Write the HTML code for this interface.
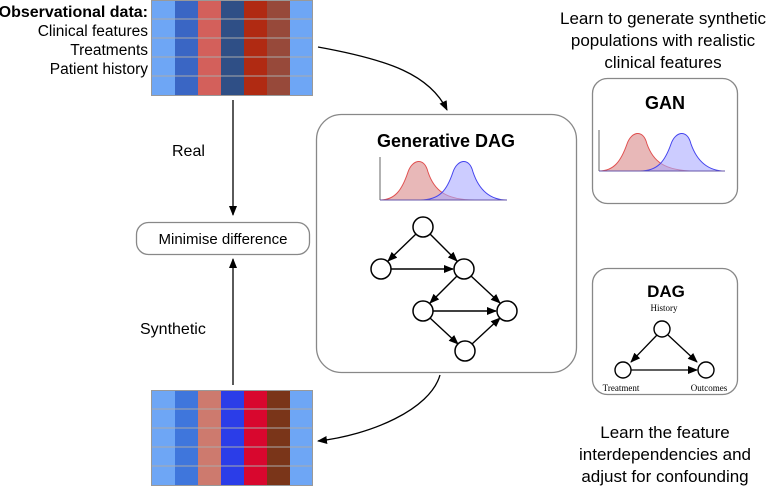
<!DOCTYPE html>
<html><head><style>
body{margin:0;width:775px;height:486px;background:#fff;overflow:hidden;font-family:"Liberation Sans",sans-serif}
</style></head><body>
<svg width="775" height="486" viewBox="0 0 775 486" xmlns="http://www.w3.org/2000/svg">
<defs>
<marker id="a" markerWidth="10" markerHeight="8" refX="9" refY="4" orient="auto" markerUnits="userSpaceOnUse"><path d="M0,0 L10,4 L0,8 z" fill="#000"/></marker>
</defs>
<g>
<rect x="151" y="0" width="24" height="96" fill="#6ea6f5"/>
<rect x="175" y="0" width="23" height="96" fill="#3a66c4"/>
<rect x="198" y="0" width="23" height="96" fill="#d3605b"/>
<rect x="221" y="0" width="23" height="96" fill="#2f4f86"/>
<rect x="244" y="0" width="23" height="96" fill="#b02a12"/>
<rect x="267" y="0" width="23" height="96" fill="#97493a"/>
<rect x="290" y="0" width="23" height="96" fill="#6ea6f5"/>
<g stroke="#aaa" stroke-width="1"><line x1="151" y1="19" x2="313" y2="19"/><line x1="151" y1="38" x2="313" y2="38"/><line x1="151" y1="57" x2="313" y2="57"/><line x1="151" y1="76" x2="313" y2="76"/></g>
<rect x="151.5" y="0.5" width="161" height="95" fill="none" stroke="#999"/>
</g>
<g>
<rect x="151" y="390" width="24" height="96" fill="#6ea6f5"/>
<rect x="175" y="390" width="23" height="96" fill="#3f76dc"/>
<rect x="198" y="390" width="23" height="96" fill="#cd7a6e"/>
<rect x="221" y="390" width="23" height="96" fill="#2b3de8"/>
<rect x="244" y="390" width="23" height="96" fill="#d8072e"/>
<rect x="267" y="390" width="23" height="96" fill="#7a3519"/>
<rect x="290" y="390" width="23" height="96" fill="#6ea6f5"/>
<g stroke="#aaa" stroke-width="1"><line x1="151" y1="409" x2="313" y2="409"/><line x1="151" y1="428" x2="313" y2="428"/><line x1="151" y1="447" x2="313" y2="447"/><line x1="151" y1="466" x2="313" y2="466"/></g>
<rect x="151.5" y="390.5" width="161" height="95" fill="none" stroke="#999"/>
</g>
<g font-size="15.5" text-anchor="end" fill="#000">
<text x="148" y="17" font-weight="bold" font-size="16">Observational data:</text>
<text x="148" y="36">Clinical features</text>
<text x="148" y="55">Treatments</text>
<text x="148" y="74">Patient history</text>
</g>
<line x1="233" y1="100" x2="233" y2="215" stroke="#000" stroke-width="1.3" marker-end="url(#a)"/>
<line x1="233" y1="385" x2="233" y2="259" stroke="#000" stroke-width="1.3" marker-end="url(#a)"/>
<text x="172" y="156" font-size="16">Real</text>
<text x="140" y="334" font-size="16">Synthetic</text>
<rect x="136.5" y="222.5" width="173" height="32" rx="12" fill="#fff" stroke="#888" stroke-width="1.3"/>
<text x="223" y="244" font-size="15" text-anchor="middle">Minimise difference</text>
<path d="M318,47 C390,60 430,75 447,110" fill="none" stroke="#000" stroke-width="1.3" marker-end="url(#a)"/>
<path d="M440,375 C430,410 370,435 318,441" fill="none" stroke="#000" stroke-width="1.3" marker-end="url(#a)"/>
<rect x="316.5" y="114.5" width="260" height="258" rx="25" fill="#fff" stroke="#888" stroke-width="1.3"/>
<text x="446" y="147" font-size="18" font-weight="bold" text-anchor="middle">Generative DAG</text>
<line x1="380" y1="157" x2="380" y2="200" stroke="#666"/>
<path d="M380,200 C395,200 402,190 408,172 C412,160 424,156 428,172 C434,190 445,200 475,200 Z" fill="#e8b8b8" stroke="#e05050"/>
<path d="M420,200 C440,200 447,190 453,172 C457,160 469,156 473,172 C479,190 490,200 507,200 Z" fill="rgba(170,170,255,0.6)" stroke="#4444ee"/>
<line x1="380" y1="200" x2="507" y2="200" stroke="#6655aa"/>
<g stroke="#000" stroke-width="1.4" fill="none">
<line x1="416" y1="234" x2="388" y2="261" marker-end="url(#a)"/>
<line x1="430" y1="234" x2="457" y2="261" marker-end="url(#a)"/>
<line x1="391" y1="269" x2="453" y2="269" marker-end="url(#a)"/>
<line x1="457" y1="276" x2="430" y2="303" marker-end="url(#a)"/>
<line x1="471" y1="276" x2="500" y2="303" marker-end="url(#a)"/>
<line x1="433" y1="311" x2="496" y2="311" marker-end="url(#a)"/>
<line x1="430" y1="318" x2="458" y2="344" marker-end="url(#a)"/>
<line x1="472" y1="344" x2="500" y2="318" marker-end="url(#a)"/>
</g>
<g fill="#fff" stroke="#000" stroke-width="1.5">
<circle cx="423" cy="227" r="10"/><circle cx="381" cy="269" r="10"/><circle cx="464" cy="269" r="10"/>
<circle cx="423" cy="311" r="10"/><circle cx="507" cy="311" r="10"/><circle cx="465" cy="351" r="10"/>
</g>
<g font-size="17" text-anchor="middle">
<text x="663" y="24">Learn to generate synthetic</text>
<text x="663" y="46">populations with realistic</text>
<text x="663" y="68">clinical features</text>
<text x="665" y="438">Learn the feature</text>
<text x="665" y="460">interdependencies and</text>
<text x="665" y="482">adjust for confounding</text>
</g>
<rect x="592.5" y="78.5" width="145" height="125" rx="15" fill="#fff" stroke="#888" stroke-width="1.3"/>
<text x="665" y="109" font-size="18" font-weight="bold" text-anchor="middle">GAN</text>
<line x1="599" y1="130" x2="599" y2="171" stroke="#666"/>
<path d="M599,171 C614,171 621,161 627,144 C631,132 643,128 647,144 C653,161 664,171 695,171 Z" fill="#e8b8b8" stroke="#e05050"/>
<path d="M640,171 C658,171 665,161 671,144 C675,132 687,128 691,144 C697,161 708,171 725,171 Z" fill="rgba(170,170,255,0.6)" stroke="#4444ee"/>
<line x1="599" y1="171" x2="725" y2="171" stroke="#6655aa"/>
<rect x="592.5" y="268.5" width="145" height="126" rx="15" fill="#fff" stroke="#888" stroke-width="1.3"/>
<text x="666" y="297" font-size="17" font-weight="bold" text-anchor="middle">DAG</text>
<g font-family="Liberation Serif,serif" font-size="9" text-anchor="middle">
<text x="664" y="311">History</text>
<text x="621" y="391">Treatment</text>
<text x="709" y="391">Outcomes</text>
</g>
<g stroke="#000" stroke-width="1.3">
<line x1="657" y1="335" x2="631" y2="362" marker-end="url(#a)"/>
<line x1="668" y1="335" x2="697" y2="362" marker-end="url(#a)"/>
<line x1="631" y1="370" x2="697" y2="370" marker-end="url(#a)"/>
</g>
<g fill="#fff" stroke="#000" stroke-width="1.4">
<circle cx="662" cy="329" r="8"/><circle cx="623" cy="370" r="8"/><circle cx="706" cy="370" r="8"/>
</g>
</svg>
</body></html>
